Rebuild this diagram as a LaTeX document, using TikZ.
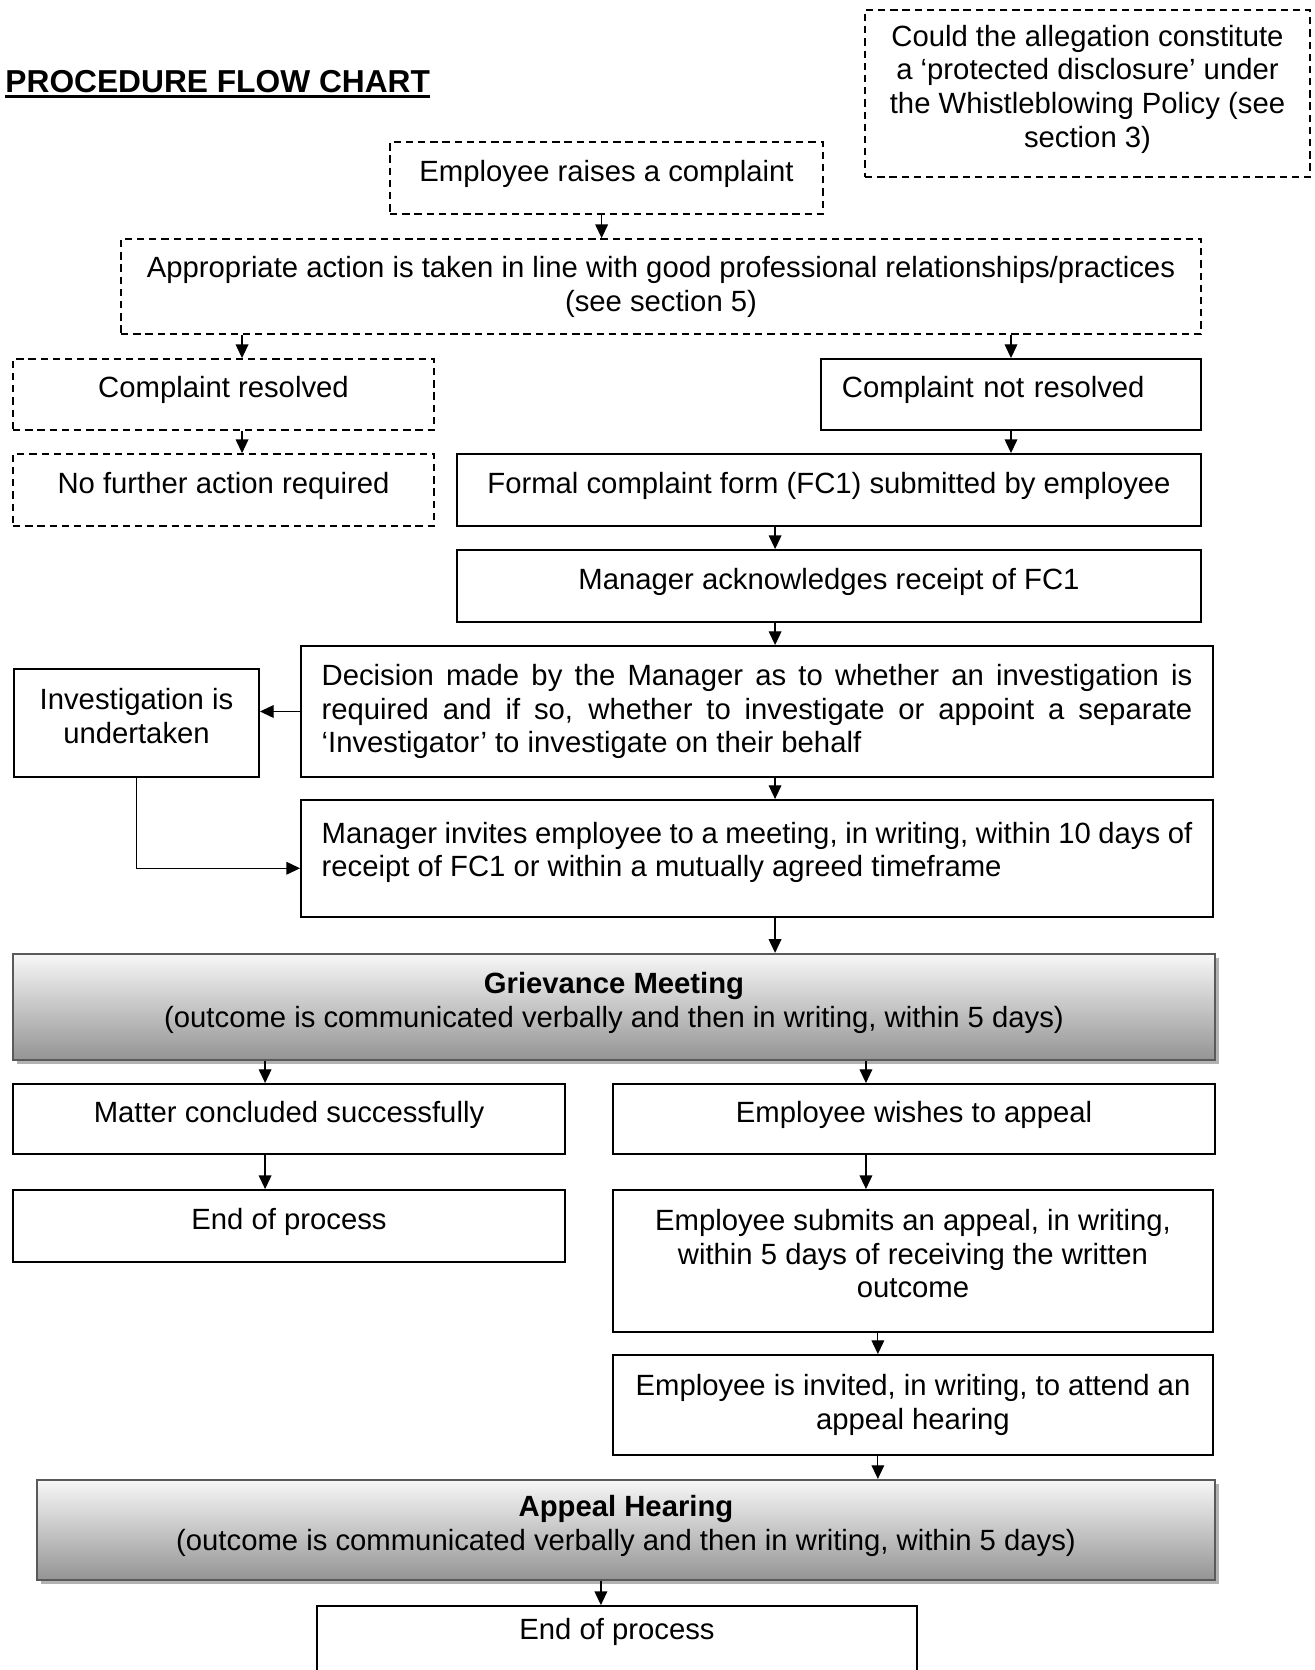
\documentclass[tikz,border=0pt]{standalone}
\usepackage{fontspec}
\setmainfont{Liberation Sans}
\usepackage{tikz}
\usetikzlibrary{arrows.meta, positioning, shadows}

\begin{document}
\begin{tikzpicture}[
  x=0.41pt, y=-0.41pt,
  box/.style={draw, rectangle, line width=0.8pt, inner sep=0pt, align=center, text depth=6pt,
    font=\fontsize{12pt}{13.8pt}\selectfont},
  para/.style={box, text width=357pt, align=justify},
  dbox/.style={box, line width=0.75pt, dash pattern=on 3pt off 2pt},
  meeting/.style={box, draw=black!65, line width=0.9pt, top color=black!3, bottom color=black!42,
    drop shadow={shadow xshift=1.6pt, shadow yshift=-1.6pt, fill=black!30, opacity=1}},
  arrow/.style={-{Triangle[length=5.6pt, width=5.2pt]}, line width=0.5pt}
]

\fill[white] (0,0) rectangle (1315,1670);
\useasboundingbox (0,0) rectangle (1315,1670);
\clip (0,0) rectangle (1315,1670);

% Title
\node[anchor=base west, inner sep=0pt, font=\fontsize{13pt}{16pt}\selectfont\bfseries] (title) at (5,92) {PROCEDURE FLOW CHART};
\draw[line width=1.2pt] ([yshift=-1.9pt]title.base west) -- ([yshift=-1.9pt]title.base east);

% Start
\node[dbox, minimum width=182.45pt, minimum height=68.47pt] (whistle) at (1087.5,93.5)
  {Could the allegation constitute\\ a ‘protected disclosure’ under\\ the Whistleblowing Policy (see\\ section 3)};
\node[dbox, minimum width=177.5pt, minimum height=29.5pt] (raise) at (606.5,178) {Employee raises a complaint};
\node[dbox, minimum width=442.8pt, minimum height=38.95pt, text depth=2pt] (action) at (661,286.5)
  {Appropriate action is taken in line with good professional relationships/practices\\ (see section 5)};

% Informal outcome
\node[dbox, minimum width=172.6pt, minimum height=29.1pt] (resolved) at (223.5,394.5) {Complaint resolved};
\node[box, minimum width=155.8pt, minimum height=29.1pt, text width=138.6pt, align=left] (notres) at (1011,394.5) {Complaint not resolved};
\node[dbox, minimum width=172.6pt, minimum height=29.5pt] (nofurther) at (223.5,490) {No further action required};
\node[box, minimum width=305pt, minimum height=29.5pt] (formal) at (829,490) {Formal complaint form (FC1) submitted by employee};
\node[box, minimum width=305pt, minimum height=29.5pt] (ack) at (829,586) {Manager acknowledges receipt of FC1};

% Investigation
\node[para, minimum width=373.9pt, minimum height=53.7pt, text depth=] (decision) at (757,711.5)
  {Decision made by the Manager as to whether an investigation is\linebreak required and if so, whether to investigate or appoint a separate\linebreak ‘Investigator’ to investigate on their behalf};
\node[box, minimum width=100.45pt, minimum height=44.3pt] (invest) at (136.5,723) {Investigation is\\ undertaken};
\node[para, minimum width=373.9pt, minimum height=48pt, text depth=21.4pt] (invites) at (757,858.5)
  {Manager invites employee to a meeting, in writing, within 10 days of\linebreak receipt of FC1 or within a mutually agreed timeframe};

% Grievance meeting
\node[meeting, minimum width=492.8pt, minimum height=43.5pt] (grievance) at (614,1007)
  {\textbf{Grievance Meeting}\\ (outcome is communicated verbally and then in writing, within 5 days)};
\node[box, minimum width=226.3pt, minimum height=28.7pt] (matter) at (289,1119) {Matter concluded successfully};
\node[box, minimum width=246.8pt, minimum height=28.7pt] (wishes) at (914,1119) {Employee wishes to appeal};
\node[box, minimum width=226.3pt, minimum height=29.5pt] (end1) at (289,1226) {End of process};
\node[box, minimum width=246pt, minimum height=58.2pt] (submits) at (913,1261)
  {Employee submits an appeal, in writing,\\ within 5 days of receiving the written\\ outcome};
\node[box, minimum width=246pt, minimum height=41pt, text depth=2.5pt] (invited) at (913,1405)
  {Employee is invited, in writing, to attend an\\ appeal hearing};

% Appeal
\node[meeting, minimum width=483pt, minimum height=41pt] (appeal) at (626,1530)
  {\textbf{Appeal Hearing}\\ (outcome is communicated verbally and then in writing, within 5 days)};
\node[box, minimum width=246pt, minimum height=38.5pt, text depth=20pt] (end2) at (617,1653) {End of process};

% Connections
\draw[arrow] ([xshift=-2pt]raise.south) -- ([xshift=-2pt]raise.south |- action.north);
\draw[arrow] ([xshift=7.6pt]resolved.north |- action.south) -- ([xshift=7.6pt]resolved.north);
\draw[arrow] (notres.north |- action.south) -- (notres.north);
\draw[arrow] ([xshift=7.6pt]resolved.south) -- ([xshift=7.6pt]nofurther.north);
\draw[arrow] (notres.south) -- (notres.south |- formal.north);
\draw[arrow] ([xshift=-22.1pt]formal.south) -- ([xshift=-22.1pt]ack.north);
\draw[arrow] ([xshift=-22.1pt]ack.south) -- ([xshift=-22.1pt]ack.south |- decision.north);
\draw[arrow] ([xshift=7.4pt]decision.south) -- ([xshift=7.4pt]invites.north);
\draw[arrow] (decision.west) -- (decision.west -| invest.east);
\draw[arrow] (invest.south) |- ([yshift=-4pt]invites.west);
\draw[arrow] ([xshift=7.4pt]invites.south) -- ([xshift=7.4pt]invites.south |- grievance.north);
\draw[arrow] ([xshift=-9.8pt]matter.north |- grievance.south) -- ([xshift=-9.8pt]matter.north);
\draw[arrow] ([xshift=-19.7pt]wishes.north |- grievance.south) -- ([xshift=-19.7pt]wishes.north);
\draw[arrow] ([xshift=-9.8pt]matter.south) -- ([xshift=-9.8pt]end1.north);
\draw[arrow] ([xshift=-19.7pt]wishes.south) -- ([xshift=-19.7pt]wishes.south |- submits.north);
\draw[arrow] ([xshift=-14.4pt]submits.south) -- ([xshift=-14.4pt]invited.north);
\draw[arrow] ([xshift=-14.4pt]invited.south) -- ([xshift=-14.4pt]invited.south |- appeal.north);
\draw[arrow] ([xshift=-6.6pt]end2.north |- appeal.south) -- ([xshift=-6.6pt]end2.north);

\end{tikzpicture}
\end{document}
